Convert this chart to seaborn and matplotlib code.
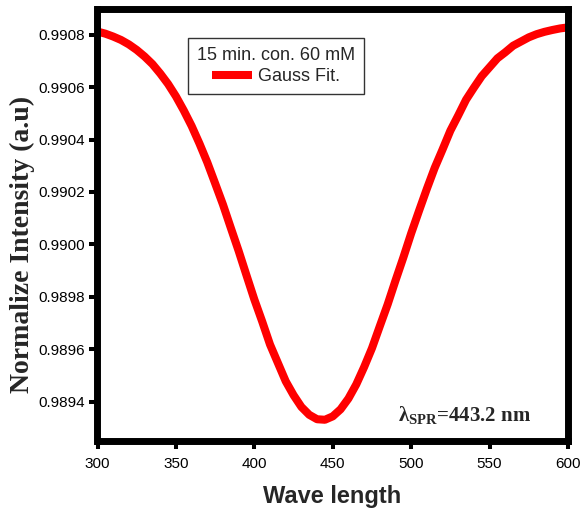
import matplotlib
matplotlib.use("Agg")
import matplotlib.pyplot as plt
import pandas as pd
import seaborn as sns

# Gauss fit of the SPR absorption dip (15 min, 60 mM)
wavelength = [300, 305, 310, 315, 320, 325, 330, 335, 340, 345,
              350, 355, 360, 365, 370, 375, 380, 385, 390, 395,
              400, 405, 410, 415, 420, 425, 430, 435, 440, 445,
              450, 455, 460, 465, 470, 475, 480, 485, 490, 495,
              500, 505, 510, 515, 520, 525, 530, 535, 540, 545,
              550, 555, 560, 565, 570, 575, 580, 585, 590, 595, 600]
intensity = [0.990812, 0.990804, 0.990793, 0.990780, 0.990763, 0.990742,
             0.990717, 0.990688, 0.990652, 0.990612, 0.990565, 0.990511,
             0.990452, 0.990385, 0.990313, 0.990233, 0.990152, 0.990063,
             0.989975, 0.989882, 0.989790, 0.989706, 0.989618, 0.989548,
             0.989478, 0.989425, 0.989380, 0.989350, 0.989333, 0.989331,
             0.989344, 0.989371, 0.989412, 0.989466, 0.989532, 0.989604,
             0.989688, 0.989771, 0.989862, 0.989950, 0.990042, 0.990128,
             0.990212, 0.990292, 0.990362, 0.990434, 0.990492, 0.990552,
             0.990598, 0.990642, 0.990676, 0.990710, 0.990733, 0.990758,
             0.990774, 0.990790, 0.990802, 0.990811, 0.990818, 0.990824,
             0.990828]

x_ticks = [300, 350, 400, 450, 500, 550, 600]
y_ticks = [0.9894, 0.9896, 0.9898, 0.9900, 0.9902, 0.9904, 0.9906, 0.9908]

series_label = "Gauss Fit."
legend_title = "15 min. con. 60 mM"
peak_text = "λ$_{\\mathbf{SPR}}$=443.2 nm"
x_label = "Wave length"
y_label = "Normalize Intensity (a.u)"

sns.set_style("white")
plt.rcParams["font.family"] = ["Liberation Sans", "DejaVu Sans"]
plt.rcParams["mathtext.fontset"] = "custom"
plt.rcParams["mathtext.rm"] = "Liberation Serif"
plt.rcParams["mathtext.bf"] = "Liberation Serif:bold"
plt.rcParams["mathtext.it"] = "Liberation Serif:italic"

W, H = 582, 521
fig = plt.figure(figsize=(W / 100, H / 100), dpi=100)
ax = fig.add_axes([97.5 / W, 1 - 441 / H, 470.5 / W, 432.5 / H])

df = pd.DataFrame({"Wavelength": wavelength, "Intensity": intensity})
sns.lineplot(data=df, x="Wavelength", y="Intensity", ax=ax, color="#ff0000",
             linewidth=5.8, label=series_label, solid_joinstyle="round",
             solid_capstyle="butt")

ax.set_xlim(300, 600)
ax.set_ylim(0.98925, 0.9909)
ax.set_xticks(x_ticks)
ax.set_xticklabels([str(v) for v in x_ticks])
ax.set_yticks(y_ticks)
ax.set_yticklabels([f"{v:.4f}" for v in y_ticks])
ax.set_xlabel("")
ax.set_ylabel("")

for s in ax.spines.values():
    s.set_linewidth(5)
    s.set_color("black")

ax.tick_params(axis="both", which="major", direction="out", length=5.8,
               width=2.9, colors="black", labelsize=11)
ax.tick_params(axis="x", pad=6.0, bottom=True, top=False)
ax.tick_params(axis="y", pad=3.2, left=True, right=False)

leg = ax.legend(title=legend_title, loc="upper left",
                bbox_to_anchor=(0.192, 0.931), fontsize=13, title_fontsize=13,
                frameon=True, fancybox=False, edgecolor="#333333",
                framealpha=1, handlelength=2.2, handletextpad=0.35,
                borderpad=0.5, labelspacing=0.2, borderaxespad=0)
leg.get_frame().set_linewidth(1.0)

ax.text(491.5, 0.989326, peak_text, fontfamily="Liberation Serif",
        fontweight="bold", fontsize=15, ha="left", va="baseline")

fig.text(22 / W, 1 - 244 / H, y_label, rotation=90, ha="center", va="center",
         fontfamily="Liberation Serif", fontweight="bold", fontsize=20)
fig.text(332.5 / W, 1 - 497 / H, x_label, ha="center", va="center",
         fontweight="bold", fontsize=17)

fig.savefig("out.png", dpi=100)
